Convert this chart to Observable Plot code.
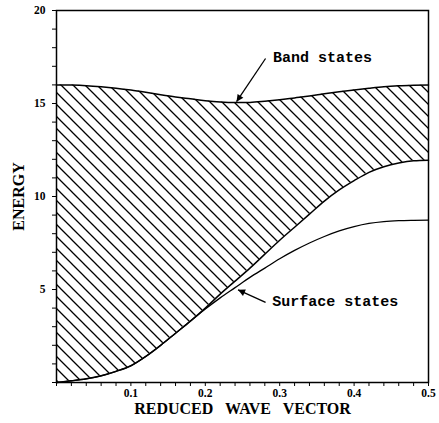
<!DOCTYPE html>
<html><head><meta charset="utf-8">
<script src="https://cdn.jsdelivr.net/npm/d3@7"></script>
<script src="https://cdn.jsdelivr.net/npm/@observablehq/plot@0.6"></script>
<style>
body{margin:0;background:#fff}
svg{display:block}
</style>
</head><body><div id="chart"></div>
<script>
// reduced wave vector samples
const waveVector = [0,0.02,0.04,0.06,0.08,0.10,0.12,0.14,0.16,0.18,0.20,0.22,0.24,0.26,0.28,0.30,0.32,0.34,0.36,0.38,0.40,0.42,0.44,0.46,0.48,0.50];
// lower edge of band states
const bandLower = [0,0.09,0.2,0.36,0.6,0.9,1.4,2.0,2.65,3.3,4.0,4.75,5.45,6.15,6.9,7.65,8.35,9.05,9.75,10.35,10.85,11.3,11.6,11.8,11.92,11.95];
// upper edge of band states
const bandUpper = [16.0,15.99,15.96,15.9,15.82,15.72,15.6,15.47,15.35,15.25,15.15,15.08,15.05,15.06,15.12,15.2,15.3,15.4,15.52,15.63,15.73,15.82,15.9,15.95,15.98,16.0];
// surface states
const surfaceState = [0,0.09,0.2,0.36,0.6,0.9,1.4,2.0,2.65,3.3,3.95,4.55,5.1,5.65,6.15,6.65,7.1,7.5,7.85,8.15,8.38,8.55,8.65,8.7,8.72,8.73];

// ticks
const xMinorTicks = [0,0.02,0.04,0.06,0.08,0.1,0.12,0.14,0.16,0.18,0.2,0.22,0.24,0.26,0.28,0.3,0.32,0.34,0.36,0.38,0.4,0.42,0.44,0.46,0.48,0.5];
const xLabelTicks = [0.1,0.2,0.3,0.4,0.5];
const yMinorTicks = [0,1,2,3,4,5,6,7,8,9,10,11,12,13,14,15,16,17,18,19,20];
const yLabelTicks = [5,10,15,20];

// annotations
const annText = ["Band states","Surface states"];
const annX = [0.291,0.290];
const annY = [17.5,4.37];
const arrowX1 = [0.281,0.281];
const arrowY1 = [17.42,4.31];
const arrowX2 = [0.242,0.244];
const arrowY2 = [15.1,4.98];

const rows = waveVector.map((x,i)=>({x, lower:bandLower[i], upper:bandUpper[i], surface:surfaceState[i]}));
const anns = annText.map((t,i)=>({t, x:annX[i], y:annY[i], x1:arrowX1[i], y1:arrowY1[i], x2:arrowX2[i], y2:arrowY2[i]}));

const serifBold = {fontFamily:"Liberation Serif, serif", fontWeight:"bold"};

const chart = Plot.plot({
  width:439, height:423,
  marginLeft:56, marginRight:11, marginTop:10, marginBottom:41,
  style:{background:"white", color:"black"},
  x:{domain:[0,0.5], label:null},
  y:{domain:[0,20], label:null},
  marks:[
    Plot.areaY(rows,{x:"x", y1:"lower", y2:"upper", fill:"url(#hatch)", curve:"monotone-x"}),
    Plot.line(rows,{x:"x", y:"upper", stroke:"black", strokeWidth:1.5, curve:"monotone-x"}),
    Plot.line(rows,{x:"x", y:"lower", stroke:"black", strokeWidth:1.5, curve:"monotone-x"}),
    Plot.line(rows,{x:"x", y:"surface", stroke:"black", strokeWidth:1.3, curve:"monotone-x"}),
    Plot.frame({stroke:"black", strokeWidth:1.5}),
    Plot.axisX({ticks:xMinorTicks, tickSize:4, tickFormat:()=>"", label:null}),
    Plot.axisY({ticks:yMinorTicks, tickSize:4, tickFormat:()=>"", label:null}),
    Plot.text(xLabelTicks,{x:d=>d, text:d=>d.toFixed(1), frameAnchor:"bottom", textAnchor:"middle", dy:14.5, fontSize:11.5, ...serifBold}),
    Plot.text(yLabelTicks,{y:d=>d, text:d=>String(d), frameAnchor:"left", textAnchor:"end", dx:-11, fontSize:11.5, ...serifBold}),
    Plot.link(anns,{x1:"x1", y1:"y1", x2:"x2", y2:"y2", stroke:"black", strokeWidth:1.3}),
    Plot.text(anns,{x:"x", y:"y", text:"t", textAnchor:"start", fontFamily:"Liberation Mono, monospace", fontWeight:"bold", fontSize:15}),
    Plot.text(["ENERGY"],{text:d=>d, frameAnchor:"left", textAnchor:"middle", dx:-38, rotate:-90, fontSize:16, ...serifBold}),
    Plot.text(["REDUCED WAVE VECTOR"],{text:d=>d, frameAnchor:"bottom", textAnchor:"middle", dy:31.5, fontSize:16, ...serifBold})
  ]
});

const svg = d3.select(chart);
const defs = svg.insert("defs", ":first-child");
const w = 12;
const pat = defs.append("pattern").attr("id","hatch").attr("patternUnits","userSpaceOnUse").attr("width",w).attr("height",w);
pat.append("path")
  .attr("d",`M${-w/4},${3*w/4}L${w/4},${5*w/4}M0,0L${w},${w}M${3*w/4},${-w/4}L${5*w/4},${w/4}`)
  .attr("stroke","black").attr("stroke-width",1.3).attr("fill","none");
defs.append("marker").attr("id","ah").attr("viewBox","0 0 10 10").attr("refX",10).attr("refY",5)
  .attr("markerWidth",11).attr("markerHeight",7).attr("markerUnits","userSpaceOnUse").attr("orient","auto")
  .append("path").attr("d","M0,0L10,5L0,10z").attr("fill","black");
svg.selectAll('g[aria-label="link"] path').attr("marker-end","url(#ah)");
svg.selectAll('text').filter(function(){return this.textContent==="REDUCED WAVE VECTOR";}).style("word-spacing","8px");
document.getElementById("chart").appendChild(chart);
</script>
</body></html>
